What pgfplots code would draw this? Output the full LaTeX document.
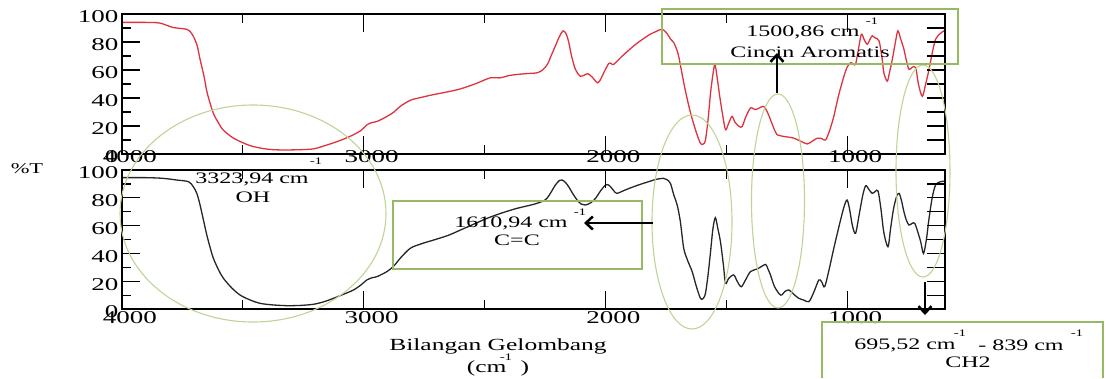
\documentclass[border=0pt]{standalone}
\usepackage{pgfplots}
\pgfplotsset{compat=1.18}
\usepackage{pgfplotstable}
\usepackage{fontspec}
\setmainfont{Liberation Serif}[FakeStretch=1.5]
\usetikzlibrary{arrows.meta}
\definecolor{ellg}{RGB}{190,212,150}
\definecolor{boxg}{RGB}{150,185,100}
\definecolor{redline}{RGB}{222,50,62}
\newcommand\annfont{\fontsize{16bp}{18bp}\selectfont}
\newcommand\supfont{\fontsize{10bp}{11bp}\selectfont}
\newcommand\tickfont{\fontsize{18bp}{20bp}\selectfont}

\pgfplotstableread{
w T
4000 94
3900 94
3843 93.5
3789 90.4
3731 89
3710 85.6
3690 78
3677 67.6
3660 55
3648 44
3623 29.5
3600 22
3582 17.3
3545 12
3511 8.9
3470 6
3429 4.3
3390 3.3
3346 2.9
3280 3
3209 3.6
3170 5.5
3126 7.9
3085 10.5
3043 13.7
3010 17
2986 20.9
2965 22.5
2944 23.3
2903 26.9
2875 30
2849 34
2807 38.4
2760 40.5
2712 42.4
2650 44.5
2600 46.5
2540 50
2476 54.4
2435 54.4
2400 56
2366 56.8
2320 57.5
2283 58
2260 60
2240 64
2225 70
2207 77.2
2190 84
2175 88
2163 86
2153 80.8
2140 70
2124 60.4
2104 55.6
2085 56.5
2072 57.3
2055 55
2032 50.8
2018 54
2007 58
1986 64.7
1975 64.5
1966 64
1930 70
1883 77.2
1850 81.5
1814 85.6
1790 87.5
1765 89.2
1745 86
1730 82
1717 79.6
1700 72
1689 62.8
1670 46
1648 29.5
1625 16
1607 7.7
1596 7
1586 10
1575 25
1565 43.6
1555 57
1547 64
1538 55
1527 41.2
1515 28
1503 17.3
1490 22
1476 26.9
1465 23
1455 20.9
1445 19.5
1434 19.7
1418 27
1400 32.9
1390 32.5
1379 31.7
1362 33
1345 34
1330 30
1317 24.5
1300 17
1289 13.7
1275 13
1262 12.5
1240 12
1220 11.3
1190 9
1165 7.2
1145 9
1124 11.3
1105 11
1089 10
1072 17
1055 26.9
1035 42
1013 55.6
1000 62
986 65.2
975 64.5
965 64
953 75
941 85.6
930 82
917 78.4
905 82
896 84.4
885 83
868 80.8
855 68
848 58
834 52
825 58
813 67.6
800 80
790 88
778 82
765 74.8
755 67
744 60.4
730 62
716 61.6
705 50
689 41.2
675 50
661 60.4
648 72
634 82
615 86
599 88
595 88.5
}\redtab

\pgfplotstableread{
w T
4000 94.5
3900 94.5
3830 94
3774 92.8
3725 91.6
3705 88
3690 83
3677 74.8
3663 64
3649 53.2
3635 44
3622 36.5
3600 28
3580 22
3545 15
3511 10
3470 6.5
3429 4.1
3380 3
3318 2.4
3260 2.6
3208 3.4
3165 5.2
3125 7.7
3085 10.5
3042 13.7
3010 17.5
2987 20.9
2965 22.5
2945 23.3
2904 26.9
2875 31
2849 36.5
2807 43.7
2760 47
2711 49.6
2650 53
2600 56.8
2545 61
2490 65.2
2430 69
2366 72.4
2297 75.3
2260 77.5
2242 79.6
2225 84
2207 89.2
2190 92.5
2179 92.8
2165 91
2152 88
2135 83
2117 78.4
2100 75.5
2083 74.8
2060 76.5
2041 79.6
2020 85
2000 89.2
1990 89.5
1979 88
1965 85
1952 83.2
1920 85.5
1883 88
1850 90
1814 92
1790 93.3
1759 94
1745 93
1731 90.4
1717 82
1703 74.8
1690 63
1676 43.7
1660 35
1641 26.9
1625 17
1607 7.7
1596 7.5
1586 11.3
1575 25
1565 41.2
1555 58
1545 65.7
1535 58
1524 48.4
1512 32
1503 18.5
1490 22
1469 24.5
1455 20
1438 16
1420 21
1400 26.9
1372 28.8
1355 30.5
1337 32.1
1328 29
1317 24.5
1300 16
1275 10
1258 12.5
1241 13.7
1220 10.5
1200 7.7
1180 6.5
1158 5.3
1138 12
1117 20.9
1105 19.5
1093 16
1075 28
1055 43.7
1030 62
1012 74
1000 78.4
990 72
978 60
965 54.5
950 68
935 82
923 88.7
910 86
896 83.2
884 84.5
872 84.9
860 72
848 55
831 44.8
820 58
808 72
795 81
785 83.2
775 78
765 70
755 64
744 60.4
732 61.5
720 61.6
705 54
695 48
684 40
672 50
661 65.2
648 80
634 89.2
615 91.5
595 92
}\blacktab

\pgfplotsset{base/.style={scale only axis, width=823bp,
  xmin=595, xmax=4000, x dir=reverse, ymin=0, ymax=100,
  axis on top,
  tick align=inside,
  xtick={1000,2000,3000,4000}, xticklabels={1000,2000,3000,4000},
  minor xtick={1500,2500,3500},
  ytick={0,20,40,60,80,100}, yticklabels={0,20,40,60,80,100},
  minor ytick={10,30,50,70,90},
  major tick length=18bp, minor tick length=9bp,
  tick style={line width=1.2bp, black},
  axis line style={line width=1.2bp, black},
  yticklabel style={font=\tickfont, anchor=east, yshift=-3bp},
  extra description/.code={
    \foreach \v in {20,40,60,80} {
      \draw[line width=1.2bp, black] (axis cs:4000,\v) -- ++(18bp,0pt);
      \draw[line width=1.2bp, black] (axis cs:595,\v) -- ++(-18bp,0pt);
    }
    \foreach \v in {10,30,50,70,90} {
      \draw[line width=1.2bp, black] (axis cs:4000,\v) -- ++(9bp,0pt);
      \draw[line width=1.2bp, black] (axis cs:595,\v) -- ++(-18bp,0pt);
    }
    \foreach \w in {1000,1500,2000,2500,3000,3500} {
      \draw[line width=1.1bp, black] (axis cs:\w,0) -- ++(0pt,5bp);
      \draw[line width=1.1bp, black] (axis cs:\w,100) -- ++(0pt,-5bp);
    }
  }}}

\begin{document}
\begin{tikzpicture}
\path (0,0) rectangle (1106bp,-378bp);
\begin{axis}[base, at={(122bp,-154bp)}, anchor=south west, height=140bp,
  xticklabel style={font=\tickfont, anchor=center, yshift=-3bp, xshift=8bp}]
\addplot[redline, line width=1.3bp, smooth, tension=0.5] table[x=w,y=T]{\redtab};
\end{axis}
\begin{axis}[base, at={(122bp,-309bp)}, anchor=south west, height=139bp,
  xticklabel style={font=\tickfont, anchor=north, inner sep=1bp, yshift=-1bp, xshift=8bp}]
\addplot[black!85, line width=1.3bp, smooth, tension=0.5] table[x=w,y=T]{\blacktab};
\end{axis}
\begin{scope}[x=1bp,y=-1bp]
\draw[ellg, line width=1.1bp] (253,213.5) ellipse [x radius=133bp, y radius=108.5bp];
\draw[ellg, line width=1.1bp] (692,222) ellipse [x radius=40bp, y radius=107bp];
\draw[ellg, line width=1.1bp] (778,201) ellipse [x radius=26.5bp, y radius=107bp];
\draw[ellg, line width=1.1bp] (923,171) ellipse [x radius=27bp, y radius=106bp];
\draw[boxg, line width=1.1bp] (662,9) rectangle (958,64);
\draw[boxg, line width=1.1bp] (393,201) rectangle (642,269);
\draw[boxg, line width=1.1bp] (822,378) -- (822,322) -- (1103,322) -- (1103,378);
\draw[line width=2.5bp, -{Straight Barb[length=7bp,width=13bp]}] (777,93) -- (777,53);
\draw[line width=2.5bp, -{Straight Barb[length=7bp,width=13bp]}] (653,223) -- (584,223);
\draw[line width=2.5bp, -{Straight Barb[length=7bp,width=13bp]}] (925,282) -- (925,315);
\node[font=\annfont] at (803,32) {1500,86 cm};
\node[font=\supfont] at (872,21) {-1};
\node[font=\annfont] at (810,52) {Cincin Aromatis};
\node[font=\annfont] at (252,179) {3323,94 cm};
\node[font=\supfont] at (316,161) {-1};
\node[font=\annfont] at (253,197) {OH};
\node[font=\annfont] at (511,223) {1610,94 cm};
\node[font=\supfont] at (580,212) {-1};
\node[font=\annfont] at (517,240) {C=C};
\node[font=\annfont] at (905,345) {695,52 cm};
\node[font=\supfont] at (960,333) {-1};
\node[font=\annfont] at (1021,345) {- 839 cm};
\node[font=\supfont] at (1077,333) {-1};
\node[font=\annfont] at (968,362) {CH2};
\node[font=\fontsize{15bp}{16bp}\selectfont] at (27,169) {\%T};
\node[font=\fontsize{17bp}{19bp}\selectfont] at (498,346) {Bilangan Gelombang};
\node[font=\fontsize{17bp}{19bp}\selectfont, inner sep=0pt] at (498,368) {(cm\hspace{14bp})};
\node[font=\supfont] at (506,357) {-1};
\end{scope}
\end{tikzpicture}
\end{document}
